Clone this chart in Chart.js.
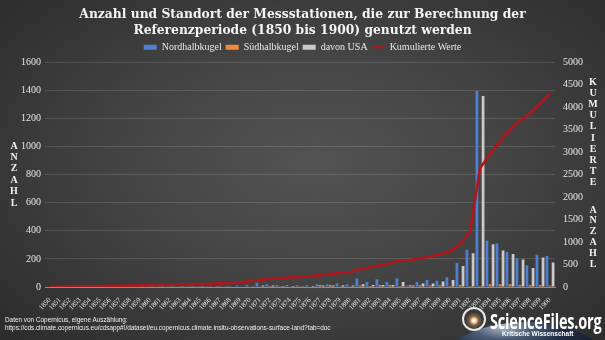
<!DOCTYPE html>
<html>
<head>
<meta charset="utf-8">
<script src="https://cdn.jsdelivr.net/npm/chart.js@4/dist/chart.umd.min.js"></script>
<style>
  html, body { margin: 0; padding: 0; width: 605px; height: 340px; overflow: hidden; }
  body { position: relative; background: radial-gradient(ellipse 70% 75% at 52% 48%, #535353 0%, #444444 45%, #2c2c2c 100%); }
  #chart { position: absolute; left: 0; top: 0; }
  .src { position: absolute; left: 5px; color: #f0f0f0; font: 6.4px "Liberation Sans", Arial, sans-serif; white-space: nowrap; }
  .globe { position: absolute; left: 430px; top: 322px; width: 190px; height: 120px; border-radius: 50%;
    background: radial-gradient(ellipse 60% 40% at 38% 4%, rgba(220,235,255,0.75) 0%, rgba(90,120,160,0.6) 25%, rgba(30,45,70,0.9) 55%, rgba(20,25,35,0.95) 100%); }
  .ring { position: absolute; left: 462px; top: 307px; width: 24px; height: 24px; border-radius: 50%; border: 2px solid #e8e8e8; box-sizing: border-box;
    background: radial-gradient(circle at 50% 58%, #fff 0%, #ffe7c4 12%, rgba(255,160,80,0.4) 30%, rgba(0,0,0,0) 55%); }
  .brand { position: absolute; left: 490px; top: 305px; color: #fff; font: bold 22px "Open Sans", "DejaVu Sans", sans-serif; transform-origin: 0 0; transform: scaleX(0.66); white-space: nowrap; letter-spacing: -0.3px; }
  .tag { position: absolute; left: 502px; top: 330px; color: #fff; font: bold 6.5px "Liberation Sans", Arial, sans-serif; white-space: nowrap; }
</style>
</head>
<body>
<canvas id="chart" width="605" height="340"></canvas>
<div class="src" style="top:316px">Daten von Copernicus, eigene Auszählung:</div>
<div class="src" style="top:324px">https://cds.climate.copernicus.eu/cdsapp#!/dataset/eu.copernicus.climate.insitu-observations-surface-land?tab=doc</div>
<div class="globe"></div>
<div class="ring"></div>
<div class="brand">ScienceFiles.org</div>
<div class="tag">Kritische Wissenschaft</div>
<script>
// Values
const years = ["1850","1851","1852","1853","1854","1855","1856","1857","1858","1859",
  "1860","1861","1862","1863","1864","1865","1866","1867","1868","1869",
  "1870","1871","1872","1873","1874","1875","1876","1877","1878","1879",
  "1880","1881","1882","1883","1884","1885","1886","1887","1888","1889",
  "1890","1891","1892","1893","1894","1895","1896","1897","1898","1899","1900"];

const nord = [3,3,3,4,3,4,3,3,4,4, 4,5,5,5,5,5,6,8,8,10,
  15,30,20,15,15,12,12,20,20,25, 20,60,35,55,35,60,10,35,50,45,
  70,170,265,1395,330,310,250,205,155,230,220];

const sued = [0,0,1,0,1,0,1,0,1,1, 1,1,1,1,2,1,2,2,2,3,
  3,5,8,5,3,5,3,15,15,5, 5,10,8,15,15,8,15,12,10,12,
  8,15,8,8,20,20,20,15,15,15,10];

const usa = [1,1,1,1,1,1,1,1,1,2, 2,2,2,2,2,2,3,3,3,4,
  5,10,10,8,8,5,8,10,10,12, 10,20,15,15,15,35,10,25,25,40,
  50,150,240,1360,305,260,235,195,135,210,175];

const kumuliert = [0,5,10,15,18,22,25,28,32,36, 40,45,50,55,60,65,70,80,90,105,
  130,160,180,195,210,225,240,265,290,310, 330,400,440,490,530,595,600,640,680,730,
  790,960,1230,2640,2960,3240,3500,3700,3860,4080,4300];

const titleLines = ["Anzahl und Standort der Messstationen, die zur Berechnung der", "Referenzperiode (1850 bis 1900) genutzt werden"];
const leftTitle = "ANZAHL";
const rightTitle = ["KUMULIERTE", "ANZAHL"];

const SERIF = "'Liberation Serif', 'DejaVu Serif', serif";

// Draws the stacked letter axis titles on both sides
const stackedTitles = {
  id: "stackedTitles",
  afterDraw(chart) {
    const ctx = chart.ctx;
    ctx.save();
    ctx.font = "bold 10px " + SERIF;
    ctx.fillStyle = "#f2f2f2";
    ctx.textAlign = "center";
    ctx.textBaseline = "middle";
    leftTitle.split("").forEach((ch, i) => ctx.fillText(ch, 14, 146 + i * 11.4));
    rightTitle[0].split("").forEach((ch, i) => ctx.fillText(ch, 593, 82 + i * 11.2));
    rightTitle[1].split("").forEach((ch, i) => ctx.fillText(ch, 593, 210 + i * 10.8));
    ctx.restore();
  }
};

const barOpts = { yAxisID: "y", categoryPercentage: 0.92, barPercentage: 0.9, borderWidth: 0 };
const plain = (v) => String(v);

new Chart(document.getElementById("chart"), {
  type: "bar",
  data: {
    labels: years,
    datasets: [
      {label: "Nordhalbkugel", data: nord, backgroundColor: "#4f7fd2", ...barOpts},
      {label: "Südhalbkugel", data: sued, backgroundColor: "#ee8a3e", ...barOpts},
      {label: "davon USA", data: usa, backgroundColor: "#cacaca", ...barOpts},
      {type: "line", label: "Kumulierte Werte", data: kumuliert, yAxisID: "y1", borderColor: "#b0161b", backgroundColor: "#b0161b",
        borderWidth: 2.6, pointRadius: 0, tension: 0, order: -1},
    ],
  },
  options: {
    responsive: false, animation: false,
    layout: { padding: { left: 0, right: 0, top: 0, bottom: 0 } },
    plugins: {
      tooltip: { enabled: false },
      title: { display: true, text: titleLines, color: "#f4f4f4", font: { family: "'DejaVu Serif', serif", size: 12.3, weight: "bold", lineHeight: 1.27 }, padding: { top: 7, bottom: 0 } },
      legend: {
        labels: {
          color: "#e8e8e8", font: { family: SERIF, size: 10 }, usePointStyle: true, pointStyleWidth: 13, boxHeight: 5, padding: 4,
          sort: (a, b) => a.datasetIndex - b.datasetIndex,
          generateLabels: (chart) => Chart.defaults.plugins.legend.labels.generateLabels(chart)
            .map((l) => ({...l, pointStyle: l.datasetIndex === 3 ? "line" : "rect", lineWidth: l.datasetIndex === 3 ? 2 : 0})),
        },
      },
    },
    scales: {
      x: {
        grid: { display: false },
        border: { color: "#8c8c8c" },
        ticks: { color: "#e2e2e2", font: { family: SERIF, size: 7 }, minRotation: 45, maxRotation: 45, autoSkip: false, padding: 1 },
        afterFit: (s) => { s.height = 53; },
      },
      y: {
        position: "left", min: 0, max: 1600,
        ticks: { stepSize: 200, color: "#e6e6e6", font: { family: SERIF, size: 10 }, padding: 4, callback: plain },
        grid: { color: "rgba(255,255,255,0.13)", drawTicks: false },
        border: { display: false },
        afterFit: (s) => { s.width = 45; },
      },
      y1: {
        position: "right", min: 0, max: 5000,
        ticks: { stepSize: 500, color: "#e6e6e6", font: { family: SERIF, size: 10 }, padding: 8, callback: plain },
        grid: { display: false, drawTicks: false },
        border: { display: false },
        afterFit: (s) => { s.width = 50; },
      },
    },
  },
  plugins: [stackedTitles],
});
</script>
</body>
</html>
